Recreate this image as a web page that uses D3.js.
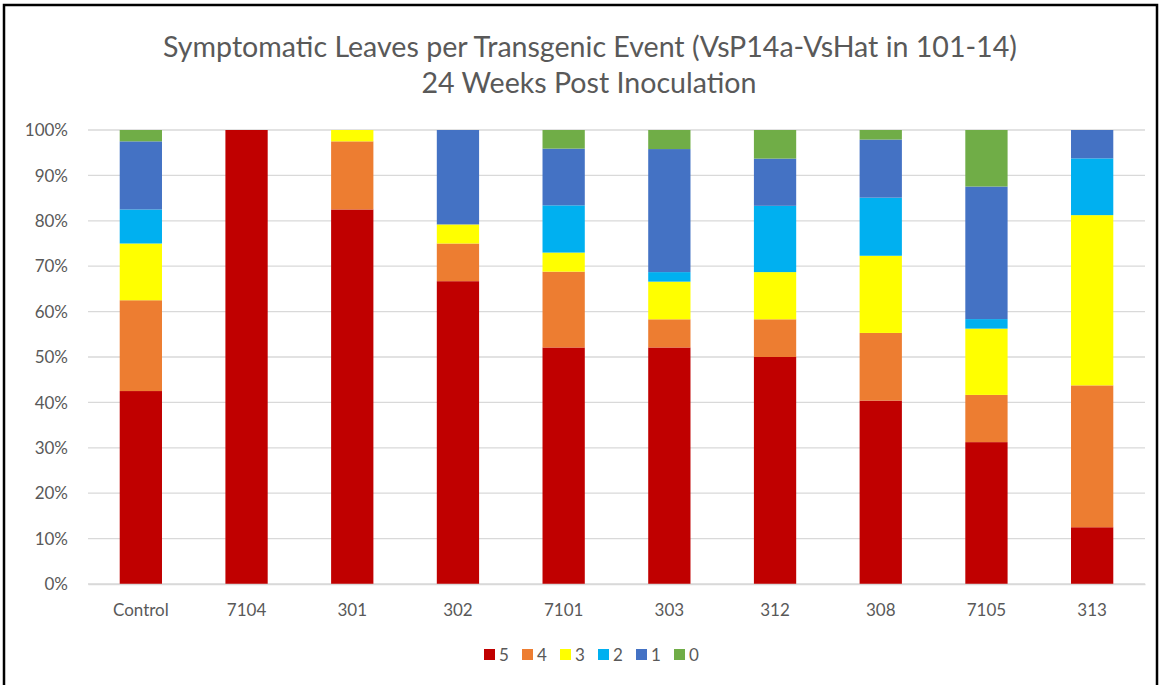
<!DOCTYPE html>
<html>
<head>
<meta charset="utf-8">
<script src="https://cdn.jsdelivr.net/npm/d3@7"></script>
<style>
  html, body { margin: 0; padding: 0; background: #ffffff; }
  svg { display: block; }
  text { font-family: Lato, "Open Sans", "Noto Sans", sans-serif; }
</style>
</head>
<body>
<svg id="chart" width="1162" height="685"></svg>
<script>
// ---- Data (percent of leaves per symptom score) ----
const categories = ["Control", "7104", "301", "302", "7101", "303", "312", "308", "7105", "313"];
const seriesNames = ["5", "4", "3", "2", "1", "0"];
const score5 = [42.5, 100, 82.5, 66.7, 52.1, 52.1, 50.0, 40.4, 31.25, 12.5];
const score4 = [20.0, 0, 15.0, 8.3, 16.7, 6.2, 8.3, 14.9, 10.4, 31.25];
const score3 = [12.5, 0, 2.5, 4.2, 4.2, 8.3, 10.4, 17.0, 14.6, 37.5];
const score2 = [7.5, 0, 0, 0, 10.4, 2.1, 14.6, 12.8, 2.1, 12.5];
const score1 = [15.0, 0, 0, 20.8, 12.5, 27.1, 10.4, 12.8, 29.2, 6.25];
const score0 = [2.5, 0, 0, 0, 4.1, 4.2, 6.3, 2.1, 12.45, 0];
const seriesColors = ["#C00000", "#ED7D31", "#FFFF00", "#00B0F0", "#4472C4", "#70AD47"];
const yTicks = [0, 10, 20, 30, 40, 50, 60, 70, 80, 90, 100];
const titleLines = ["Symptomatic Leaves per Transgenic Event (VsP14a-VsHat in 101-14)", "24 Weeks Post Inoculation"];

const seriesValues = [score5, score4, score3, score2, score1, score0];
const rows = categories.map((c, i) => {
  const r = { category: c };
  seriesNames.forEach((s, j) => { r[s] = seriesValues[j][i]; });
  return r;
});

const svg = d3.select("#chart");
const plot = { left: 88, right: 1145, top: 130, bottom: 584 };

// outer border
svg.append("rect")
  .attr("x", 4).attr("y", 5).attr("width", 1153).attr("height", 690)
  .attr("fill", "#ffffff").attr("stroke", "#000000").attr("stroke-width", 2.5);

const x = d3.scaleBand().domain(categories).range([plot.left, plot.right]).paddingInner(0.6).paddingOuter(0.3);
const y = d3.scaleLinear().domain([0, 100]).range([plot.bottom, plot.top]);

// gridlines
svg.append("g").selectAll("line").data(yTicks).join("line")
  .attr("x1", plot.left).attr("x2", plot.right)
  .attr("y1", d => y(d)).attr("y2", d => y(d))
  .attr("stroke", "#d9d9d9").attr("stroke-width", 1.3);

// y axis labels
const yAxis = d3.axisLeft(y).tickValues(yTicks).tickFormat(d => d + "%").tickSize(0).tickPadding(0);
const yg = svg.append("g").attr("transform", `translate(68,0)`).call(yAxis);
yg.select(".domain").remove();
yg.selectAll("text").attr("font-size", 17).attr("fill", "#595959")
  .attr("font-family", "Lato, 'Open Sans', sans-serif").attr("dy", "0.34em");

// stacked bars
const stack = d3.stack().keys(seriesNames);
const stacked = stack(rows);
svg.append("g").selectAll("g").data(stacked).join("g")
  .attr("fill", (d, i) => seriesColors[i])
  .selectAll("rect").data(d => d).join("rect")
  .attr("x", d => x(d.data.category))
  .attr("width", x.bandwidth())
  .attr("y", d => y(d[1]))
  .attr("height", d => Math.max(0, y(d[0]) - y(d[1])));

// x axis
const xAxis = d3.axisBottom(x).tickSize(0).tickPadding(0);
const xg = svg.append("g").attr("transform", `translate(0,${plot.bottom})`).call(xAxis);
xg.select(".domain").attr("stroke", "#d9d9d9").attr("stroke-width", 1.3);
xg.selectAll("text").attr("font-size", 17).attr("fill", "#595959")
  .attr("font-family", "Lato, 'Open Sans', sans-serif").attr("y", 32).attr("dy", 0);

// title
const t1 = svg.append("text").attr("x", 590).attr("y", 57).attr("text-anchor", "middle")
  .attr("font-size", 28).attr("fill", "#595959").text(titleLines[0]);
const w1 = t1.node().getComputedTextLength();
const fs = 28 * 854 / w1;
t1.attr("font-size", fs);
svg.append("text").attr("x", 589).attr("y", 93).attr("text-anchor", "middle")
  .attr("font-size", fs).attr("fill", "#595959").text(titleLines[1]);

// legend
const legendX = d3.scalePoint().domain(seriesNames).range([484, 674]);
const lg = svg.append("g").selectAll("g").data(seriesNames).join("g")
  .attr("transform", d => `translate(${legendX(d)},655)`);
lg.append("rect").attr("x", 0).attr("y", -6).attr("width", 11).attr("height", 11)
  .attr("fill", (d, i) => seriesColors[i]);
lg.append("text").attr("x", 15).attr("y", 0).attr("dy", "0.36em")
  .attr("font-size", 17).attr("fill", "#595959").text(d => d);
</script>
</body>
</html>
